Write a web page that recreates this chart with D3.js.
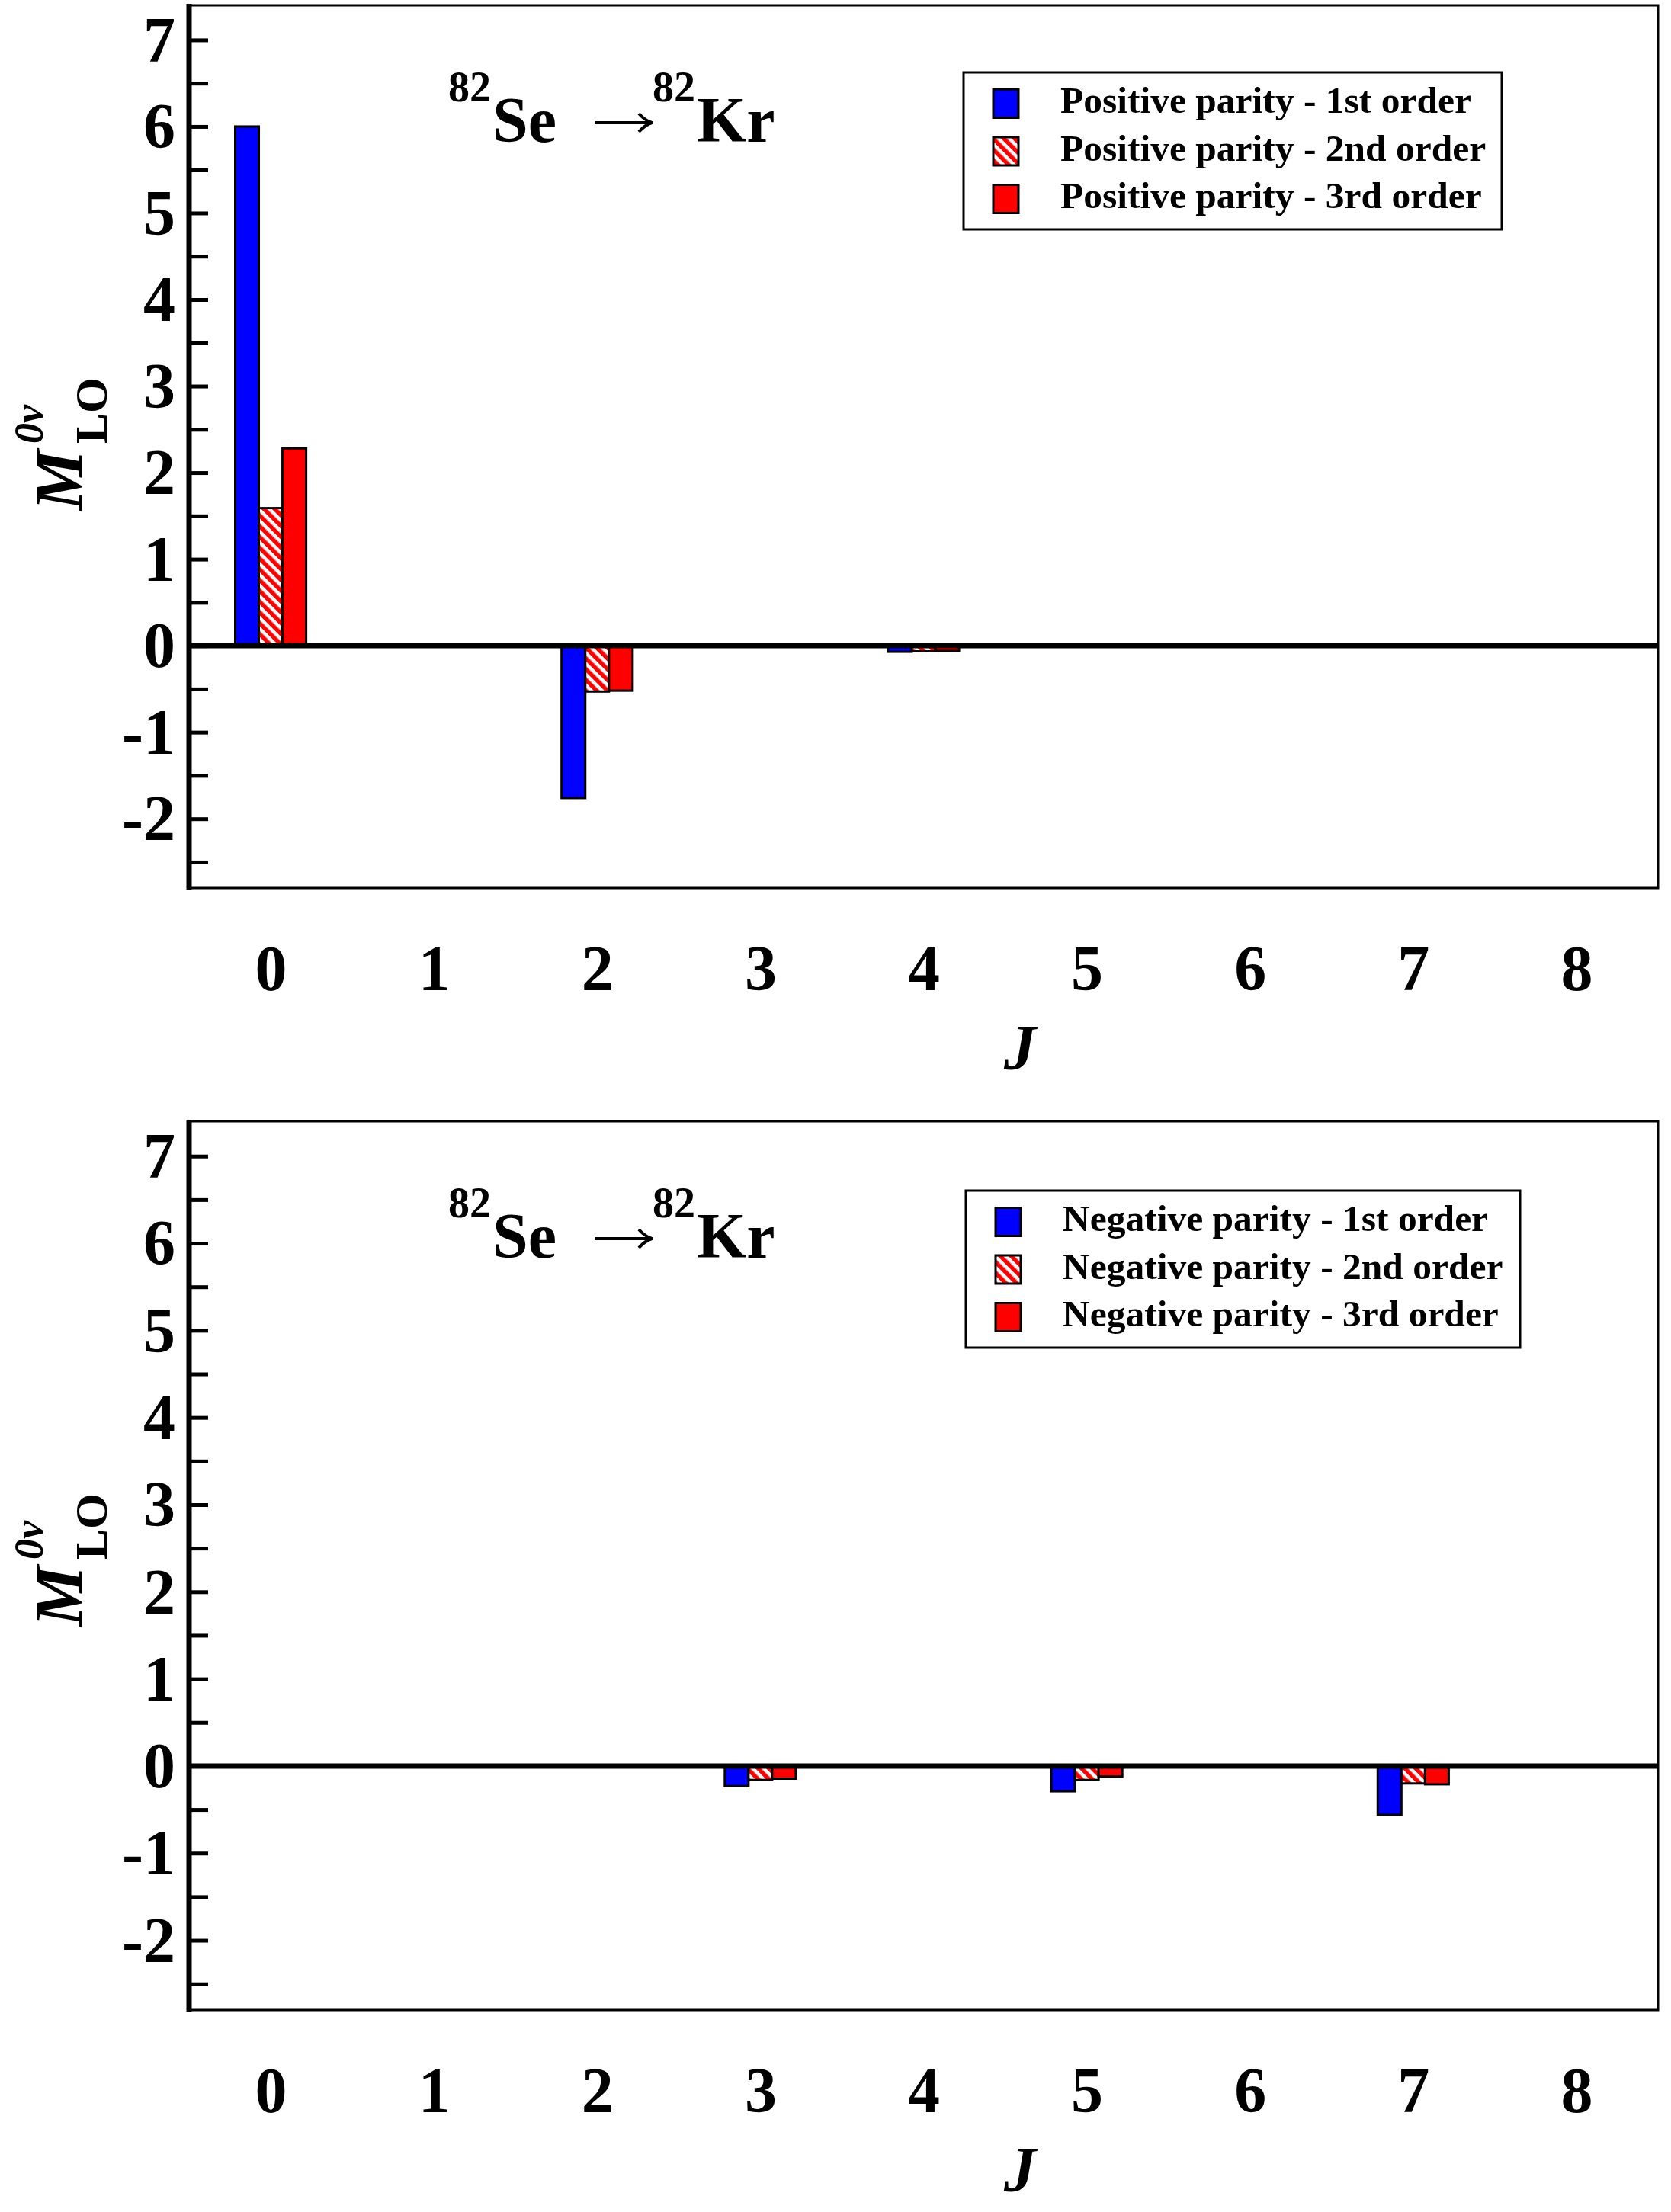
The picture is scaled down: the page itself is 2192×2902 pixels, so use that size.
<!DOCTYPE html>
<html>
<head>
<meta charset="utf-8">
<script src="https://cdn.jsdelivr.net/npm/d3@7"></script>
<style>
  body { margin: 0; background: #fff; }
  svg { display: block; }
</style>
</head>
<body>
<svg id="chart"></svg>
<script>
// J values on the x axis
const jValues = [0, 1, 2, 3, 4, 5, 6, 7, 8];

// positive parity (top panel)
const posFirst  = [6.00, 0, -1.76, 0.01, -0.07, 0, 0, 0, 0];
const posSecond = [1.59, 0, -0.53, 0, -0.065, 0, 0, 0, 0];
const posThird  = [2.28, 0, -0.52, 0, -0.06, 0, 0, 0, 0];

// negative parity (bottom panel)
const negFirst  = [0, 0, 0, -0.23, 0, -0.29, 0, -0.56, 0];
const negSecond = [0, 0, 0, -0.16, 0, -0.16, 0, -0.20, 0];
const negThird  = [0, 0, 0, -0.145, 0, -0.12, 0, -0.21, 0];

const posLabels = ['Positive parity - 1st order', 'Positive parity - 2nd order', 'Positive parity - 3rd order'];
const negLabels = ['Negative parity - 1st order', 'Negative parity - 2nd order', 'Negative parity - 3rd order'];

const yTickValues = [-2.5, -2, -1.5, -1, -0.5, 0, 0.5, 1, 1.5, 2, 2.5, 3, 3.5, 4, 4.5, 5, 5.5, 6, 6.5, 7];
const yTickLabels = [-2, -1, 0, 1, 2, 3, 4, 5, 6, 7];

const W = 2192, H = 2902;
const FONT = "'Liberation Serif', 'Times New Roman', Times, serif";
const fills = ['#0000ff', 'url(#hatch)', '#ff0000'];
const barW = 0.145;

const svg = d3.select('#chart').attr('width', W).attr('height', H);
svg.append('rect').attr('width', W).attr('height', H).attr('fill', '#fff');

// red/white diagonal hatch
const pat = svg.append('defs').append('pattern')
    .attr('id', 'hatch').attr('patternUnits', 'userSpaceOnUse')
    .attr('width', 10).attr('height', 10)
    .attr('patternTransform', 'rotate(-45)');
pat.append('rect').attr('width', 10).attr('height', 10).attr('fill', '#fff');
pat.append('rect').attr('width', 5.5).attr('height', 10).attr('fill', '#ff0000');

const panels = [
    { top: 7, bottom: 1165, series: [posFirst, posSecond, posThird], labels: posLabels,
      legend: { x: 1264, y: 95, w: 706 } },
    { top: 1471, bottom: 2637, series: [negFirst, negSecond, negThird], labels: negLabels,
      legend: { x: 1267, y: 1562, w: 727 } }
];

const left = 248, right = 2175;
const x = d3.scaleLinear().domain([-0.5, 8.5]).range([left, right]);

panels.forEach(p => {
    const y = d3.scaleLinear().domain([-2.8, 7.4]).range([p.bottom, p.top]);
    const g = svg.append('g');
    const off = p.top - 7;

    // frame
    g.append('rect')
        .attr('x', left).attr('y', p.top)
        .attr('width', right - left).attr('height', p.bottom - p.top)
        .attr('fill', 'none').attr('stroke', '#000').attr('stroke-width', 3);

    // bars
    p.series.forEach((vals, si) => {
        g.append('g').selectAll('rect')
            .data(jValues.map((j, i) => ({ j, v: vals[i] })).filter(d => d.v !== 0))
            .enter().append('rect')
            .attr('x', d => x(d.j + (si - 1) * barW - barW / 2))
            .attr('width', d => x(d.j + barW / 2) - x(d.j - barW / 2))
            .attr('y', d => y(Math.max(0, d.v)))
            .attr('height', d => Math.abs(y(d.v) - y(0)))
            .attr('fill', fills[si])
            .attr('stroke', '#000').attr('stroke-width', 3);
    });

    // zero line
    g.append('line')
        .attr('x1', left).attr('x2', right)
        .attr('y1', y(0)).attr('y2', y(0))
        .attr('stroke', '#000').attr('stroke-width', 7);

    // y ticks (inward)
    const yt = g.append('g').attr('transform', `translate(${left},0)`)
        .call(d3.axisRight(y).tickValues(yTickValues).tickSize(25).tickFormat(''));
    yt.select('.domain').remove();
    yt.selectAll('line').attr('stroke', '#000').attr('stroke-width', 5);

    // y labels
    const yl = g.append('g').attr('transform', `translate(${left},0)`)
        .call(d3.axisLeft(y).tickValues(yTickLabels).tickSize(0).tickPadding(18).tickFormat(d3.format('d')));
    yl.select('.domain').remove();
    yl.selectAll('text')
        .attr('font-family', FONT).attr('font-weight', 'bold').attr('font-size', 84)
        .attr('fill', '#000').attr('dy', '0.33em')
        .text(d => d < 0 ? '-' + Math.abs(d) : d);

    // left axis line
    g.append('line')
        .attr('x1', left).attr('x2', left)
        .attr('y1', p.top - 2).attr('y2', p.bottom + 2)
        .attr('stroke', '#000').attr('stroke-width', 7);

    // x labels
    const xl = g.append('g').attr('transform', `translate(0,${p.bottom})`)
        .call(d3.axisBottom(x).tickValues(jValues).tickSize(0).tickFormat(d3.format('d')));
    xl.select('.domain').remove();
    xl.selectAll('text')
        .attr('font-family', FONT).attr('font-weight', 'bold').attr('font-size', 84)
        .attr('fill', '#000').attr('y', 134).attr('dy', null);

    // x title
    g.append('text')
        .attr('x', 1338).attr('y', p.bottom + 238)
        .attr('text-anchor', 'middle')
        .attr('font-family', FONT).attr('font-weight', 'bold').attr('font-style', 'italic')
        .attr('font-size', 84).text('J');

    // y title  M^{0ν}_{LO}
    const yt2 = g.append('g').attr('transform', `translate(108,${670 + off}) rotate(-90)`)
        .attr('font-family', FONT).attr('font-weight', 'bold');
    yt2.append('text').attr('x', 0).attr('y', 0)
        .attr('font-style', 'italic').attr('font-size', 90).text('M');
    yt2.append('text').attr('x', 88).attr('y', -52)
        .attr('font-style', 'italic').attr('font-size', 54).text('0ν');
    yt2.append('text').attr('x', 88).attr('y', 32)
        .attr('font-size', 60).text('LO');

    // reaction title: 82Se -> 82Kr
    const t = g.append('g').attr('font-family', FONT).attr('font-weight', 'bold');
    t.append('text').attr('x', 588).attr('y', 133 + off).attr('font-size', 56).text('82');
    t.append('text').attr('x', 646).attr('y', 186 + off).attr('font-size', 84).text('Se');
    t.append('text').attr('x', 856).attr('y', 133 + off).attr('font-size', 56).text('82');
    t.append('text').attr('x', 914).attr('y', 186 + off).attr('font-size', 84).text('Kr');
    // arrow
    const ay = 161 + off;
    t.append('path')
        .attr('d', `M780,${ay}H853M838,${ay - 12}Q846,${ay - 3} 855,${ay}Q846,${ay + 3} 838,${ay + 12}`)
        .attr('fill', 'none').attr('stroke', '#000').attr('stroke-width', 4)
        .attr('stroke-linejoin', 'round');

    // legend
    const L = p.legend;
    const lg = g.append('g');
    lg.append('rect')
        .attr('x', L.x).attr('y', L.y).attr('width', L.w).attr('height', 206)
        .attr('fill', '#fff').attr('stroke', '#000').attr('stroke-width', 3);
    p.labels.forEach((lab, i) => {
        const cy = L.y + 41 + i * 62.5;
        lg.append('rect')
            .attr('x', L.x + 39).attr('y', cy - 18.5)
            .attr('width', 33).attr('height', 37)
            .attr('fill', fills[i]).attr('stroke', '#000').attr('stroke-width', 3);
        lg.append('text')
            .attr('x', L.x + 127).attr('y', cy + 12)
            .attr('font-family', FONT).attr('font-weight', 'bold').attr('font-size', 49.5)
            .text(lab);
    });
});
</script>
</body>
</html>
